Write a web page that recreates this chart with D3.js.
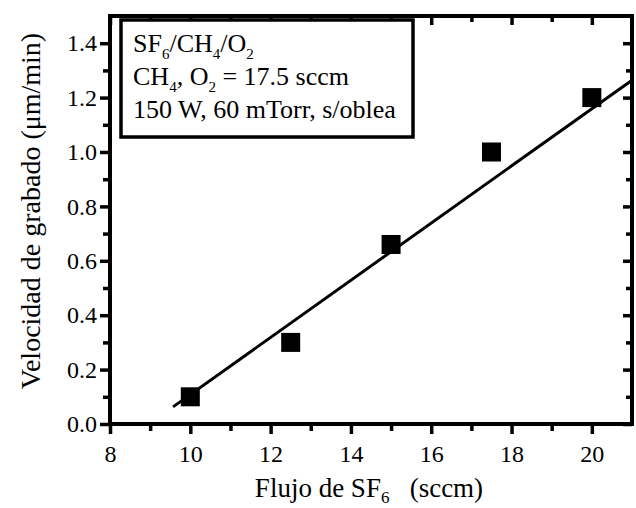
<!DOCTYPE html>
<html lang="es">
<head>
    <meta charset="UTF-8">
    <title>Velocidad de grabado vs flujo de SF6</title>
    <script src="https://cdn.jsdelivr.net/npm/d3@7/dist/d3.min.js"></script>
    <style>
        body { margin: 0; background: #fff; }
        svg text { font-family: "Liberation Serif", "Times New Roman", serif; fill: #000; }
    </style>
</head>
<body>
<script>
    // datos
    const flujoSF6 = [10, 12.5, 15, 17.5, 20];
    const velocidad = [0.1, 0.3, 0.66, 1.0, 1.2];
    // recta de ajuste (extremos)
    const ajusteX = [9.57, 21];
    const ajusteY = [0.063, 1.264];

    const xMajor = [8, 10, 12, 14, 16, 18, 20];
    const xMinor = [9, 11, 13, 15, 17, 19];
    const yMajor = [0, 0.2, 0.4, 0.6, 0.8, 1.0, 1.2, 1.4];
    const yMinor = [0.1, 0.3, 0.5, 0.7, 0.9, 1.1, 1.3];

    const w = 636, h = 508;
    const mIzq = 110, mDer = 632, mSup = 16, mInf = 424;

    const svg = d3.select('body').append('svg')
        .attr('width', w)
        .attr('height', h);

    const x = d3.scaleLinear().domain([8, 21]).range([mIzq, mDer]);
    const y = d3.scaleLinear().domain([0, 1.5]).range([mInf, mSup]);

    // estilo comun de los ejes
    function estilo(g) {
        g.select('.domain').remove();
        g.selectAll('line').attr('stroke', '#000').attr('stroke-width', 3.5);
        g.selectAll('text')
            .attr('font-family', 'Liberation Serif, serif')
            .attr('font-size', 24)
            .attr('fill', '#000');
    }

    // ejes principales (ticks hacia fuera)
    svg.append('g')
        .attr('transform', 'translate(0,' + mInf + ')')
        .call(d3.axisBottom(x).tickValues(xMajor).tickSize(10).tickPadding(11).tickFormat(d3.format('d')))
        .call(estilo);
    svg.append('g')
        .attr('transform', 'translate(0,' + mInf + ')')
        .call(d3.axisBottom(x).tickValues(xMinor).tickSize(7).tickFormat(''))
        .call(estilo);

    svg.append('g')
        .attr('transform', 'translate(' + mIzq + ',0)')
        .call(d3.axisLeft(y).tickValues(yMajor).tickSize(10).tickPadding(3).tickFormat(d3.format('.1f')))
        .call(estilo);
    svg.append('g')
        .attr('transform', 'translate(' + mIzq + ',0)')
        .call(d3.axisLeft(y).tickValues(yMinor).tickSize(7).tickFormat(''))
        .call(estilo);

    // ejes espejo (ticks hacia dentro)
    svg.append('g')
        .attr('transform', 'translate(0,' + mSup + ')')
        .call(d3.axisTop(x).tickValues(xMajor).tickSizeInner(-9).tickFormat(''))
        .call(estilo);
    svg.append('g')
        .attr('transform', 'translate(0,' + mSup + ')')
        .call(d3.axisTop(x).tickValues(xMinor).tickSizeInner(-6).tickFormat(''))
        .call(estilo);
    svg.append('g')
        .attr('transform', 'translate(' + mDer + ',0)')
        .call(d3.axisRight(y).tickValues(yMajor).tickSizeInner(-9).tickFormat(''))
        .call(estilo);
    svg.append('g')
        .attr('transform', 'translate(' + mDer + ',0)')
        .call(d3.axisRight(y).tickValues(yMinor).tickSizeInner(-6).tickFormat(''))
        .call(estilo);

    // marco
    svg.append('rect')
        .attr('x', mIzq).attr('y', mSup)
        .attr('width', mDer - mIzq).attr('height', mInf - mSup)
        .attr('fill', 'none').attr('stroke', '#000').attr('stroke-width', 4);

    // recta de ajuste
    const linea = d3.line().x(d => x(d[0])).y(d => y(d[1]));
    svg.append('path')
        .datum(d3.zip(ajusteX, ajusteY))
        .attr('d', linea)
        .attr('fill', 'none')
        .attr('stroke', '#000')
        .attr('stroke-width', 3);

    // puntos
    const s = 19;
    svg.selectAll('rect.punto')
        .data(d3.zip(flujoSF6, velocidad))
        .enter().append('rect')
        .attr('class', 'punto')
        .attr('x', d => x(d[0]) - s / 2)
        .attr('y', d => y(d[1]) - s / 2)
        .attr('width', s).attr('height', s)
        .attr('fill', '#000');

    // leyenda
    svg.append('rect')
        .attr('x', 121).attr('y', 20)
        .attr('width', 292).attr('height', 117)
        .attr('fill', '#fff').attr('stroke', '#000').attr('stroke-width', 3.5);

    function conSub(partes, px, py) {
        const txt = svg.append('text').attr('x', px).attr('y', py)
            .attr('font-size', 26);
        partes.forEach(p => {
            if (p.sub) {
                txt.append('tspan').attr('baseline-shift', -7).attr('font-size', 15).text(p.t);
            } else {
                txt.append('tspan').text(p.t);
            }
        });
        return txt;
    }
    conSub([{t: 'SF'}, {t: '6', sub: true}, {t: '/CH'}, {t: '4', sub: true}, {t: '/O'}, {t: '2', sub: true}], 133, 52);
    conSub([{t: 'CH'}, {t: '4', sub: true}, {t: ', O'}, {t: '2', sub: true}, {t: ' = 17.5 sccm'}], 133, 85);
    conSub([{t: '150 W, 60 mTorr, s/oblea'}], 133, 118);

    // titulos de ejes
    const tx = svg.append('text')
        .attr('x', 369).attr('y', 497)
        .attr('text-anchor', 'middle')
        .attr('font-size', 27);
    tx.append('tspan').text('Flujo de SF');
    tx.append('tspan').attr('baseline-shift', -6).attr('font-size', 17).text('6');
    tx.append('tspan').text('\u2002 (sccm)');

    svg.append('text')
        .attr('transform', 'translate(40,211) rotate(-90)')
        .attr('text-anchor', 'middle')
        .attr('font-size', 28)
        .text('Velocidad de grabado  (\u03bcm/min)');
</script>
</body>
</html>
